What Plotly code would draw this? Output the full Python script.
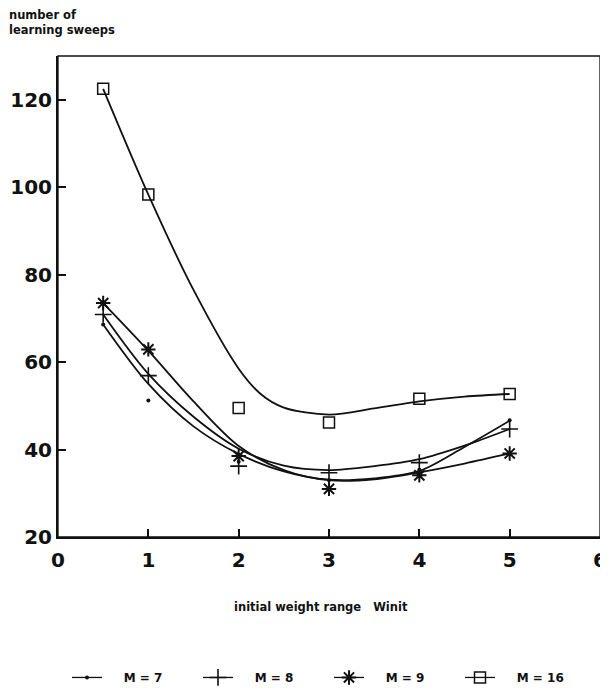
import plotly.graph_objects as go

# ---- data ----
x_points = [0.5, 1, 2, 3, 4, 5]
m7_points = [68.6, 51.2, 37.2, 33.0, 35.4, 46.7]
m8_points = [70.9, 56.9, 36.2, 34.7, 37.0, 44.7]
m9_points = [73.5, 62.9, 38.5, 31.0, 34.1, 39.1]
m16_points = [122.5, 98.3, 49.5, 46.2, 51.6, 52.7]

# smooth fitted curves
x_curve = [0.5, 1, 1.5, 2, 2.5, 3, 3.5, 4, 4.5, 5]
m7_curve = [68.6, 55.0, 45.3, 39.0, 35.0, 33.1, 33.4, 35.1, 40.6, 46.6]
m8_curve = [70.9, 57.3, 47.5, 40.2, 36.3, 35.3, 36.2, 37.8, 40.9, 44.7]
m9_curve = [73.5, 62.6, 51.0, 40.8, 35.3, 33.0, 33.2, 34.8, 36.8, 39.1]
x_curve16 = [0.5, 1, 1.5, 2, 2.25, 2.5, 3, 3.5, 4, 4.5, 5]
m16_curve = [122.5, 98.3, 76.5, 58.5, 52.6, 49.6, 48.0, 49.4, 51.0, 52.1, 52.7]

x_ticks = [0, 1, 2, 3, 4, 5, 6]
y_ticks = [20, 40, 60, 80, 100, 120]

labels = ["M = 7", "M = 8", "M = 9", "M = 16"]

BLACK = "#111111"
FONT = "DejaVu Sans"

markers = [
    dict(symbol="circle", size=4, color=BLACK),
    dict(symbol="cross-thin", size=12, color=BLACK, line=dict(color=BLACK, width=1.6)),
    dict(symbol="asterisk", size=12, color=BLACK, line=dict(color=BLACK, width=2)),
    dict(symbol="square-open", size=11, color=BLACK, line=dict(color=BLACK, width=1.5)),
]
points = [m7_points, m8_points, m9_points, m16_points]
curves = [(x_curve, m7_curve), (x_curve, m8_curve), (x_curve, m9_curve), (x_curve16, m16_curve)]

fig = go.Figure()
for i in range(4):
    cx, cy = curves[i]
    fig.add_trace(go.Scatter(x=cx, y=cy, mode="lines", showlegend=False,
                             line=dict(color=BLACK, width=1.8, shape="spline", smoothing=0.9),
                             hoverinfo="skip"))
    fig.add_trace(go.Scatter(x=x_points, y=points[i], mode="markers", showlegend=False,
                             marker=markers[i]))
    # legend entry (line + marker sample)
    fig.add_trace(go.Scatter(x=[None], y=[None], mode="lines+markers",
                             name="\u00a0\u00a0\u00a0\u00a0" + labels[i].replace(" ", "\u00a0"),
                             line=dict(color=BLACK, width=1.3), marker=markers[i]))

axis_font = dict(family=FONT, size=20, color=BLACK, weight="bold")
fig.update_xaxes(range=[0, 6], tickvals=x_ticks, ticktext=[str(v) for v in x_ticks],
                 ticks="inside", ticklen=8, tickwidth=1.5, tickcolor=BLACK,
                 showline=True, linewidth=2, linecolor=BLACK, mirror=False,
                 showgrid=False, zeroline=False, tickfont=axis_font,
                 ticklabelstandoff=4, automargin=False)
fig.update_yaxes(range=[20, 130], tickvals=y_ticks, ticktext=[str(v) for v in y_ticks],
                 ticks="inside", ticklen=8, tickwidth=1.5, tickcolor=BLACK,
                 showline=True, linewidth=2, linecolor=BLACK, mirror=False,
                 showgrid=False, zeroline=False, tickfont=axis_font,
                 ticklabelstandoff=0, automargin=False)

fig.add_shape(type="rect", xref="paper", yref="paper", x0=0, y0=0, x1=1, y1=1,
              line=dict(color=BLACK, width=1.3))

title_font = dict(family=FONT, size=11.5, color=BLACK, weight="bold")
fig.add_annotation(xref="paper", yref="paper", x=-0.0941, y=1.1042, xanchor="left", yanchor="top",
                   text="number of<br>learning sweeps", showarrow=False, align="left",
                   font=title_font)
fig.add_annotation(xref="paper", yref="paper", x=0.485, y=-0.1465, xanchor="center", yanchor="middle",
                   text="initial weight range\u00a0\u00a0\u00a0Winit", showarrow=False,
                   font=title_font)

# page body has an 8px margin, so the figure is offset to land on the 608x693 window;
# extra height below the window keeps the legend from shrinking the plot area
fig.update_layout(
    width=608, height=720,
    margin=dict(l=50, r=16, t=48.25, b=190.5),
    paper_bgcolor="white", plot_bgcolor="white",
    font=dict(family=FONT, color=BLACK),
    legend=dict(orientation="h", x=0.0166, y=-0.292, xanchor="left", yanchor="middle",
                font=dict(family=FONT, size=12, color=BLACK, weight="bold"),
                entrywidth=86, entrywidthmode="pixels", bgcolor="rgba(0,0,0,0)",
                itemclick=False, itemdoubleclick=False),
)

fig.write_html("out.html", config={"displayModeBar": False})
